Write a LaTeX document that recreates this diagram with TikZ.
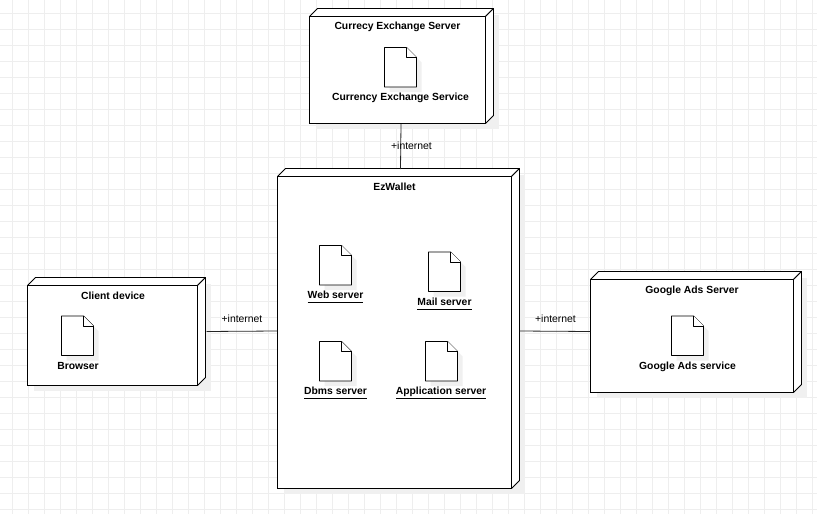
\documentclass[tikz,border=0pt]{standalone}
\usepackage{fontspec}
\setmainfont{Liberation Sans}
\definecolor{gridgray}{HTML}{EEEEEE}
\definecolor{shadowgray}{HTML}{F0F0F0}
\newcommand{\ul}[1]{\underline{#1\rule[-3pt]{0pt}{0pt}}}
\begin{document}
\begin{tikzpicture}[
        x=1pt,
        y=-1pt,
        gridline/.style={draw=gridgray, line width=0.9pt},
        devicebox/.style={
            draw,
            fill=white,
            anchor=north west,
            inner sep=0pt,
            outer sep=0pt,
            line width=0.8pt
        },
        sideface/.style={draw, fill=white, line width=0.8pt, line join=round},
        fileface/.style={draw, fill=white, line width=0.8pt, line join=round},
        shadowface/.style={fill=shadowgray},
        wire/.style={draw=black!85, line width=0.8pt},
        boldlabel/.style={font=\fontsize{10.35}{12}\selectfont\bfseries, inner sep=0pt, anchor=base},
        wirelabel/.style={font=\fontsize{10.4}{12}\selectfont, inner sep=0pt, anchor=base}
    ]
        \useasboundingbox (0,0) rectangle (817,514);

        % Background grid, 16 px apart
        \foreach \k in {0,...,50}
            \draw[gridline] (12.5+16*\k,0) -- (12.5+16*\k,514);
        \foreach \k in {0,...,31}
            \draw[gridline] (0,13.5+16*\k) -- (817,13.5+16*\k);

        % Devices: left, top, width, height
        \foreach \name/\x/\y/\w/\h in {
            currency/309.5/16.5/176/107,
            ezwallet/277.5/176.5/234/312,
            client/27.5/285.5/170/100,
            googleads/590.5/279.5/203/113}
        {
            \fill[shadowface] (\x+6,\y-2) -- (\x+\w+13,\y-2) -- (\x+\w+13,\y+\h+5)
                -- (\x+6,\y+\h+5) -- cycle;
            \node[devicebox, minimum width=\w pt, minimum height=\h pt]
                (\name) at (\x,\y) {};
            \draw[sideface] (\x,\y) -- (\x+8,\y-8) -- (\x+\w+8,\y-8) -- (\x+\w,\y) -- cycle;
            \draw[sideface] (\x+\w,\y) -- (\x+\w+8,\y-8) -- (\x+\w+8,\y+\h-8)
                -- (\x+\w,\y+\h) -- cycle;
        }

        % Ends of the connectors on the device faces
        \coordinate (currencyport) at (401,124);
        \coordinate (ezwallettop) at (400.5,169);
        \coordinate (clientport) at (206.5,331.5);
        \coordinate (ezwalletleft) at (277,331);
        \coordinate (ezwalletright) at (519.5,331);
        \coordinate (googleadsport) at (590,331.5);

        \draw[wire] (currencyport) -- (ezwallettop);
        \draw[wire] (clientport) -- (ezwalletleft);
        \draw[wire] (ezwalletright) -- (googleadsport);

        \node[wirelabel] (netcurrency) at (411.5,149) {+internet};
        \node[wirelabel] (netclient) at (242,322.5) {+internet};
        \node[wirelabel] (netgoogleads) at (555.5,322.5) {+internet};

        % Artifacts: left, top
        \foreach \name/\x/\y in {
            service/384.5/47.5,
            web/319.5/245.5,
            mail/428.5/252,
            dbms/319.5/341.5,
            application/425.5/341.5,
            browser/61.5/316,
            adsservice/671.5/316}
        {
            \fill[shadowface] (\x+5,\y+5) -- (\x+27,\y+5) -- (\x+37,\y+15)
                -- (\x+37,\y+44.5) -- (\x+5,\y+44.5) -- cycle;
            \draw[fileface] (\x,\y) coordinate (\name) -- (\x+22,\y) -- (\x+32,\y+10)
                -- (\x+32,\y+39.5) -- (\x,\y+39.5) -- cycle;
            \draw[fileface] (\x+22,\y) -- (\x+22,\y+10) -- (\x+32,\y+10);
        }

        \node[boldlabel] (currencytitle) at (397.5,30) {Currecy Exchange Server};
        \node[boldlabel] (ezwallettitle) at (394.5,190) {EzWallet};
        \node[boldlabel] (clienttitle) at (113,299) {Client device};
        \node[boldlabel] (googleadstitle) at (692,293) {Google Ads Server};

        \node[boldlabel] (servicelabel) at (400.5,100) {Currency Exchange Service};
        \node[boldlabel] (browserlabel) at (78,369) {Browser};
        \node[boldlabel] (adsservicelabel) at (687.5,369) {Google Ads service};

        \node[boldlabel] (weblabel) at (335.5,298) {\ul{Web server}};
        \node[boldlabel] (maillabel) at (444.5,305) {\ul{Mail server}};
        \node[boldlabel] (dbmslabel) at (335.5,394) {\ul{Dbms server}};
        \node[boldlabel] (applicationlabel) at (441,394) {\ul{Application server}};

    \end{tikzpicture}
\end{document}
